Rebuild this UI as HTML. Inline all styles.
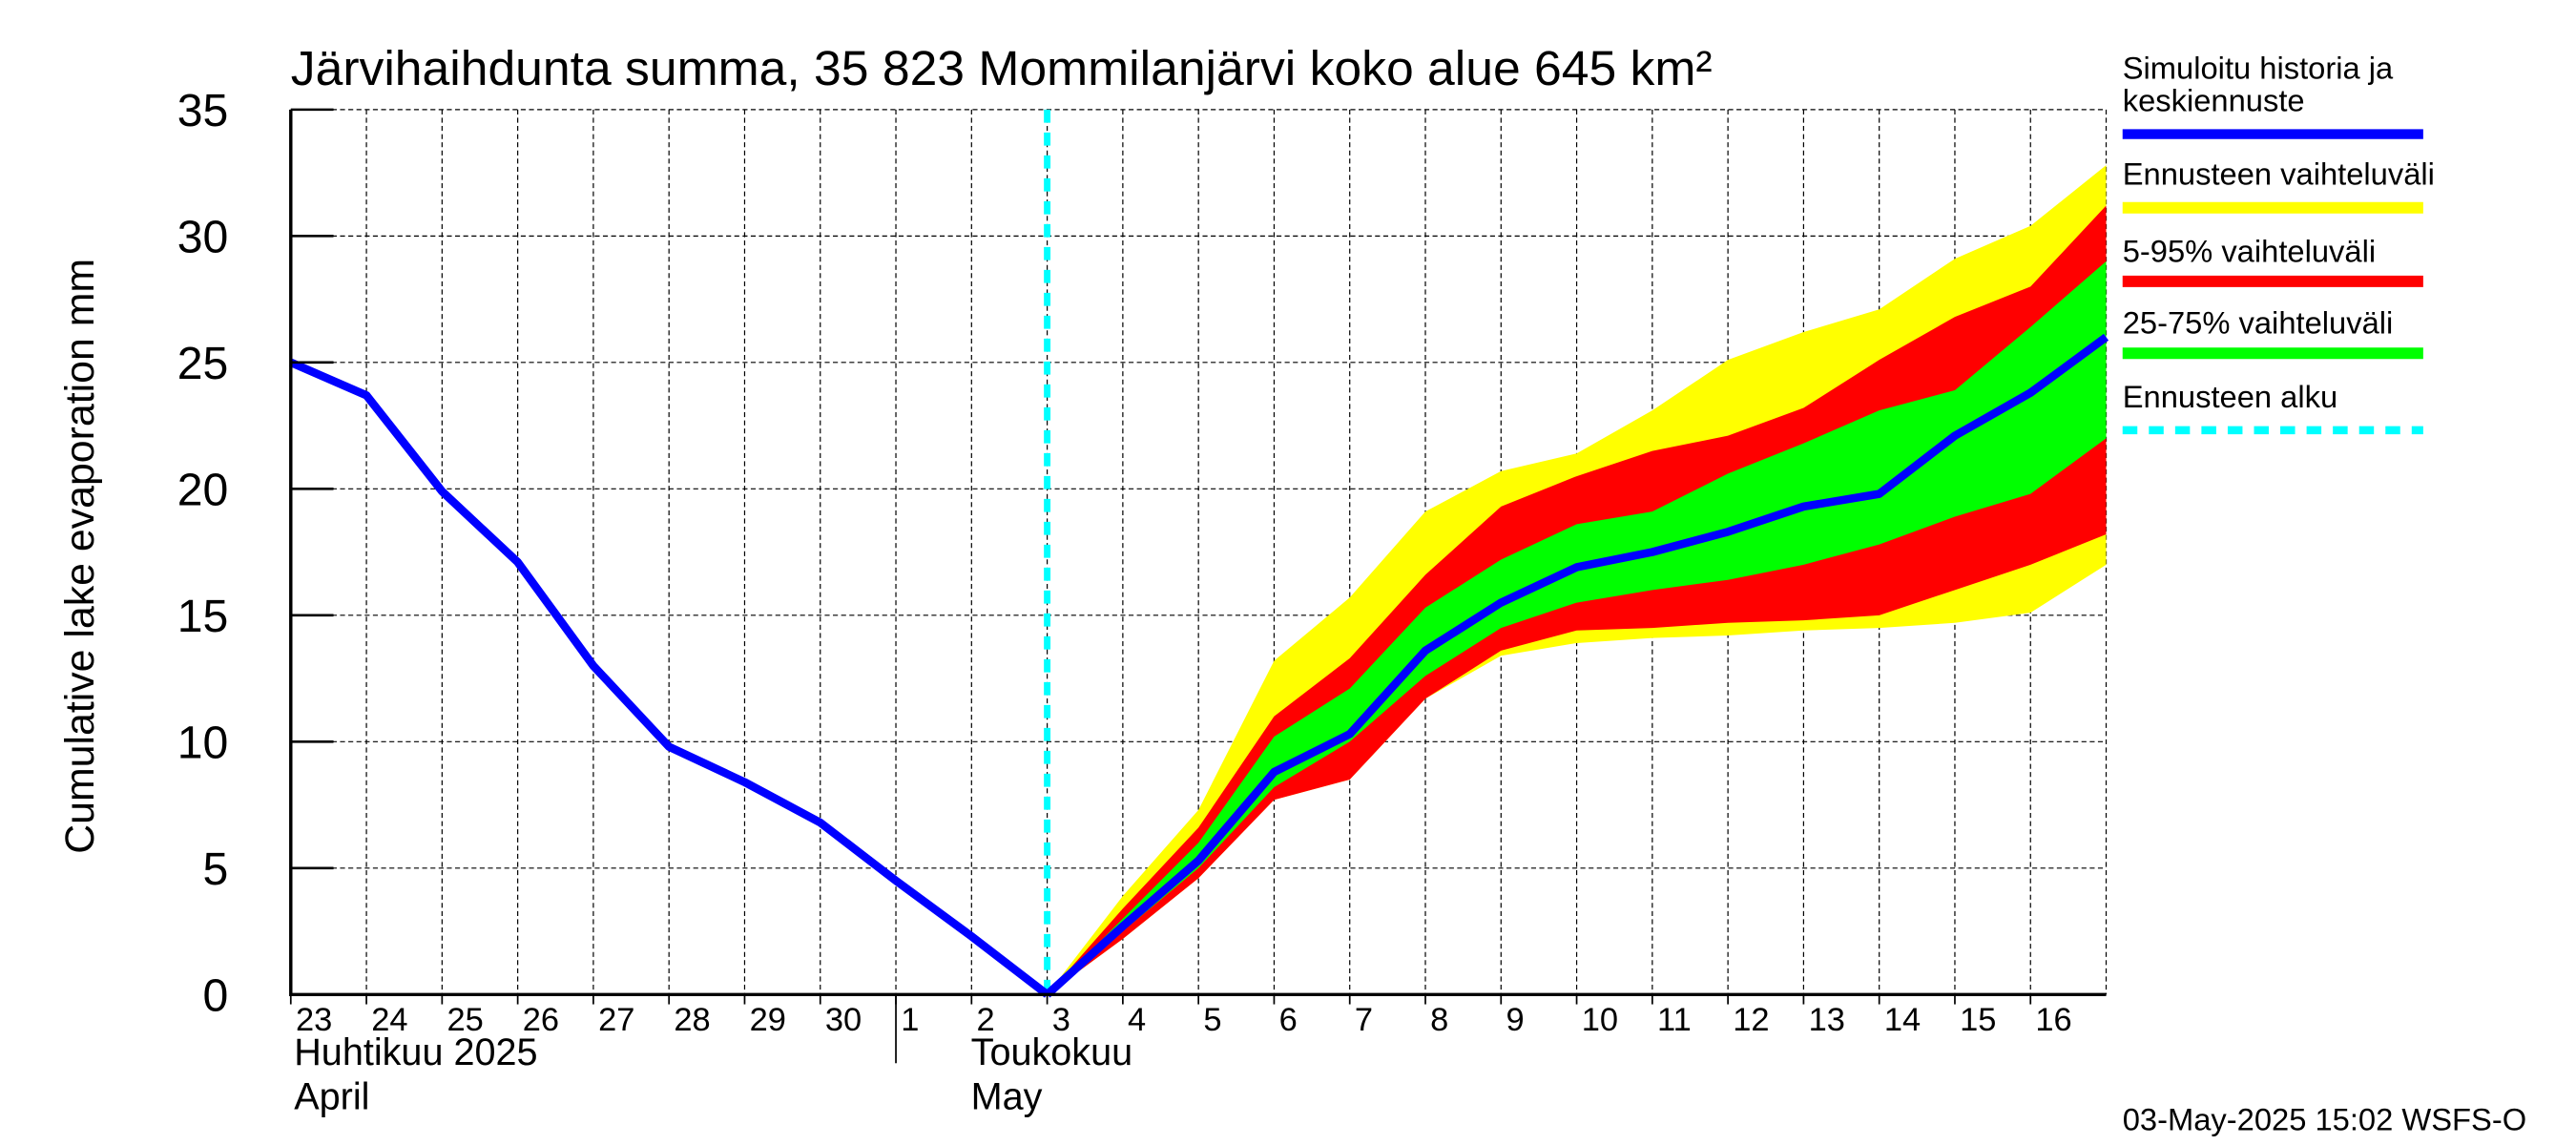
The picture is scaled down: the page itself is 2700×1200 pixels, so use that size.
<!DOCTYPE html>
<html><head><meta charset="utf-8"><style>
html,body{margin:0;padding:0;background:#fff}
svg{display:block}
text{font-family:"Liberation Sans",sans-serif;fill:#000}
</style></head><body>
<svg id="chart" width="2700" height="1200" viewBox="0 0 1568 700" preserveAspectRatio="none" xmlns="http://www.w3.org/2000/svg">
<g id="grid"></g>
<g id="bands"></g>
<g id="lines"></g>
<g id="axes"></g>
<text x="177" y="52" font-size="30">Järvihaihdunta summa, 35 823 Mommilanjärvi koko alue 645 km²</text>
<text transform="translate(57,340) rotate(-90)" text-anchor="middle" font-size="25">Cumulative lake evaporation   mm</text>
<text x="179" y="651" font-size="23">Huhtikuu  2025</text>
<text x="179" y="678" font-size="23">April</text>
<text x="591" y="651" font-size="23">Toukokuu</text>
<text x="591" y="678" font-size="23">May</text>
<g font-size="19">
<text x="1292" y="48">Simuloitu historia ja</text>
<text x="1292" y="68">keskiennuste</text>
<line x1="1292" y1="82" x2="1475" y2="82" stroke="#0000ff" stroke-width="6"/>
<text x="1292" y="113">Ennusteen vaihteluväli</text>
<line x1="1292" y1="127" x2="1475" y2="127" stroke="#ffff00" stroke-width="7"/>
<text x="1292" y="160">5-95% vaihteluväli</text>
<line x1="1292" y1="172" x2="1475" y2="172" stroke="#ff0000" stroke-width="7"/>
<text x="1292" y="204">25-75% vaihteluväli</text>
<line x1="1292" y1="216" x2="1475" y2="216" stroke="#00ff00" stroke-width="7"/>
<text x="1292" y="249">Ennusteen alku</text>
<line x1="1292" y1="263" x2="1475" y2="263" stroke="#00ffff" stroke-width="5" stroke-dasharray="9,7"/>
</g>
<text x="1292" y="691" font-size="19">03-May-2025 15:02 WSFS-O</text>
</svg>
<script>
const dayLabels = ["23","24","25","26","27","28","29","30","1","2","3","4","5","6","7","8","9","10","11","12","13","14","15","16"];
const yTicks = [0,5,10,15,20,25,30,35];
const history = [25.0,23.7,19.9,17.1,13.0,9.8,8.4,6.8,4.5,2.3,0];
const fcStart = 10;
const median   = [0,2.7,5.3,8.8,10.3,13.6,15.5,16.9,17.5,18.3,19.3,19.8,22.1,23.8,26.0];
const yellowHi = [0,3.9,7.3,13.2,15.7,19.1,20.7,21.4,23.1,25.1,26.2,27.1,29.1,30.4,32.8];
const redHi    = [0,3.4,6.6,11.0,13.3,16.6,19.3,20.5,21.5,22.1,23.2,25.1,26.8,28.0,31.2];
const greenHi  = [0,3.0,6.0,10.2,12.1,15.3,17.2,18.6,19.1,20.6,21.8,23.1,23.9,26.4,29.0];
const greenLo  = [0,2.5,5.0,8.2,10.0,12.6,14.5,15.5,16.0,16.4,17.0,17.8,18.9,19.8,22.0];
const redLo    = [0,2.2,4.6,7.7,8.5,11.7,13.6,14.4,14.5,14.7,14.8,15.0,16.0,17.0,18.2];
const yellowLo = [0,2.2,4.6,7.7,8.5,11.7,13.4,13.9,14.1,14.2,14.4,14.5,14.7,15.1,17.0];

const L=177,R=1282,T=67,B=608,NDAYS=24,YMAX=35;
const xs=i=>L+i*(R-L)/NDAYS;
const ys=v=>B-v*(B-T)/YMAX;
const NS="http://www.w3.org/2000/svg";
function mk(tag,attrs,parent){const e=document.createElementNS(NS,tag);for(const k in attrs)e.setAttribute(k,attrs[k]);parent.appendChild(e);return e;}
const grid=document.getElementById('grid'),bands=document.getElementById('bands'),lines=document.getElementById('lines'),axes=document.getElementById('axes');

for(let i=1;i<=NDAYS;i++){
  const g=mk('line',{x1:xs(i),y1:T,x2:xs(i),y2:B,stroke:'#000','stroke-width':0.7,'stroke-dasharray':'3,2'},grid);
  
  
}
yTicks.forEach(v=>{
  if(v===0)return;
  const g=mk('line',{x1:L,y1:ys(v),x2:R,y2:ys(v),stroke:'#000','stroke-width':0.7,'stroke-dasharray':'3,2'},grid);
  
  
});

function band(hi,lo,color,name){
  let pts=[];
  hi.forEach((v,k)=>pts.push(xs(fcStart+k)+','+ys(v)));
  for(let k=lo.length-1;k>=0;k--)pts.push(xs(fcStart+k)+','+ys(lo[k]));
  const p=mk('polygon',{points:pts.join(' '),fill:color},bands);
  
  
}
band(yellowHi,yellowLo,'#ffff00','band-full-range');
band(redHi,redLo,'#ff0000','band-5-95');
band(greenHi,greenLo,'#00ff00','band-25-75');

const fs=mk('line',{x1:xs(fcStart),y1:T,x2:xs(fcStart),y2:B,stroke:'#00ffff','stroke-width':4,'stroke-dasharray':'8,6'},lines);



const hp=mk('polyline',{points:history.map((v,i)=>xs(i)+','+ys(v)).join(' '),fill:'none',stroke:'#0000ff','stroke-width':5,'stroke-linejoin':'round'},lines);


const mp=mk('polyline',{points:median.map((v,k)=>xs(fcStart+k)+','+ys(v)).join(' '),fill:'none',stroke:'#0000ff','stroke-width':5,'stroke-linejoin':'round'},lines);



const ax=mk('polyline',{points:`${L},${T} ${L},${B} ${R},${B}`,fill:'none',stroke:'#000','stroke-width':2},axes);


yTicks.forEach(v=>{
  const t=mk('line',{x1:L,y1:ys(v),x2:L+26,y2:ys(v),stroke:'#000','stroke-width':1.5},axes);
  
  
  const tx=mk('text',{x:139,y:ys(v)+10,'text-anchor':'end','font-size':28},axes);
  tx.textContent=v;
  
  
});
dayLabels.forEach((d,i)=>{
  const tx=mk('text',{x:xs(i)+3,y:630,'font-size':20},axes);
  tx.textContent=d;
  
  
  const t=mk('line',{x1:xs(i),y1:B,x2:xs(i),y2:B+6,stroke:'#000','stroke-width':1},axes);
  
  
});
const ms=mk('line',{x1:xs(8),y1:B,x2:xs(8),y2:650,stroke:'#000','stroke-width':1},axes);


</script>
</body></html>
